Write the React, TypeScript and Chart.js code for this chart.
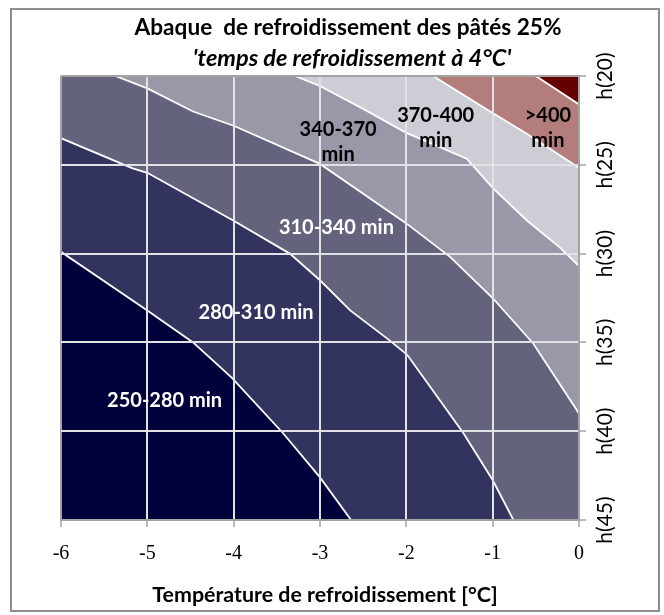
import React, { useEffect, useRef } from 'react';
import { Chart, registerables } from 'chart.js';

Chart.register(...registerables);

type Pt = [number, number];

// ---- axes ----
const xTickValues = [-6, -5, -4, -3, -2, -1, 0];
const xTickLabels = ['-6', '-5', '-4', '-3', '-2', '-1', '0'];
const hTickValues = [20, 25, 30, 35, 40, 45];
const hTickLabels = ['h(20)', 'h(25)', 'h(30)', 'h(35)', 'h(40)', 'h(45)'];

// ---- contour boundaries: [temperature °C, h] ----
const contour280: Pt[] = [[-6, 29.9], [-5, 33.2], [-4.47, 35.0], [-4.02, 37.0], [-3.43, 40.1], [-3.0, 42.6], [-2.64, 45]];
const contour310: Pt[] = [[-6, 23.5], [-5.17, 25.2], [-5, 25.45], [-4, 28.15], [-3.35, 30.0], [-3, 31.5], [-2.65, 33.2], [-2.19, 34.9], [-1.99, 35.7], [-1.34, 40.1], [-1, 42.75], [-0.76, 45]];
const contour340: Pt[] = [[-5.37, 20], [-5, 20.7], [-4.47, 22.0], [-4, 22.8], [-3, 24.95], [-2.39, 27.0], [-2, 28.3], [-1.49, 30.2], [-1, 32.5], [-0.53, 35.06], [0, 39.0]];
const contour370: Pt[] = [[-3.29, 20], [-3, 20.56], [-2.5, 21.85], [-2, 23.2], [-1.3, 24.66], [-1, 26.3], [-0.6, 28.15], [-0.22, 29.66], [0, 30.7]];
const contour400: Pt[] = [[-1.69, 20], [-1, 22.08], [-0.6, 23.26], [0, 25.17]];
const contour430: Pt[] = [[-0.5, 20], [0, 21.6]];

const bandNames = ['250-280 min', '280-310 min', '310-340 min', '340-370 min', '370-400 min', '>400 min', '>430 min'];
const bandColors = ['#00003a', '#333360', '#63637e', '#9898a9', '#cdcdd5', '#b27d7a', '#660000'];

// ---- in-plot labels ----
const labelLines = [['250-280 min'], ['280-310 min'], ['310-340 min'], ['340-370', 'min'], ['370-400', 'min'], ['>400', 'min']];
const labelTemps = [-4.8, -3.74, -2.81, -2.79, -1.66, -0.36];
const labelHeights = [38.26, 33.31, 28.54, 23.7, 22.92, 22.92];
const labelInk = ['#ffffff', '#ffffff', '#ffffff', '#000000', '#000000', '#000000'];

const chartTitle = 'Abaque  de refroidissement des pâtés 25%';
const chartSubtitle = "'temps de refroidissement à 4°C'";
const xAxisTitle = 'Température de refroidissement [°C]';

const X_MIN = xTickValues[0];
const X_MAX = xTickValues[xTickValues.length - 1];
const H_MIN = hTickValues[0];
const H_MAX = hTickValues[hTickValues.length - 1];

const contours = [contour280, contour310, contour340, contour370, contour400, contour430];

function regionAbove(line: Pt[]): Pt[] {
  const pts = line.slice();
  const last = pts[pts.length - 1];
  if (last[1] >= H_MAX) pts.push([X_MAX, H_MAX]);
  pts.push([X_MAX, H_MIN]);
  if (pts[0][0] <= X_MIN) pts.push([X_MIN, H_MIN]);
  pts.push(pts[0]);
  return pts;
}

const baseRect: Pt[] = [[X_MIN, H_MIN], [X_MAX, H_MIN], [X_MAX, H_MAX], [X_MIN, H_MAX], [X_MIN, H_MIN]];
const toXY = (pts: Pt[]) => pts.map(([x, y]) => ({ x, y }));

const EDGE = '#a3a3a3';
const GRID = '#e2e2e6';

const textPlugin = {
  id: 'texts',
  beforeDraw(chart: any) {
    const { ctx, width, height } = chart;
    ctx.save();
    ctx.fillStyle = '#ffffff';
    ctx.fillRect(0, 0, width, height);
    ctx.strokeStyle = '#8e8e8e';
    ctx.lineWidth = 2;
    ctx.strokeRect(11, 9, 648, 602);
    ctx.restore();
  },
  afterDraw(chart: any) {
    const { ctx } = chart;
    const xs = chart.scales.x;
    const ys = chart.scales.y;
    ctx.save();
    ctx.textAlign = 'center';
    ctx.textBaseline = 'middle';
    ctx.fillStyle = '#000';
    ctx.font = 'bold 22.6px Lato';
    ctx.fillText(chartTitle, 348, 28);
    ctx.font = 'italic bold 23.5px Lato';
    ctx.fillText(chartSubtitle, 352, 58);
    ctx.font = 'bold 21.4px Lato';
    ctx.fillText(xAxisTitle, 325, 595);
    ctx.font = 'bold 20px Lato';
    labelLines.forEach((lines, i) => {
      const cx = xs.getPixelForValue(labelTemps[i]);
      const cy = ys.getPixelForValue(labelHeights[i]);
      ctx.fillStyle = labelInk[i];
      lines.forEach((t, j) => ctx.fillText(t, cx, cy + (j - (lines.length - 1) / 2) * 25));
    });
    ctx.restore();
  },
};

export default function App() {
  const ref = useRef<HTMLCanvasElement>(null);
  useEffect(() => {
    const canvas = ref.current;
    if (!canvas) return;
    const datasets: any[] = [];
    contours.forEach((c, i) => {
      datasets.push({
        label: bandNames[i] + ' / ' + bandNames[i + 1],
        data: toXY(c),
        showLine: true,
        borderColor: '#ffffff',
        borderWidth: 1.8,
        pointRadius: 0,
        fill: false,
        tension: 0,
        order: 0,
      });
    });
    datasets.push({
      label: bandNames[0],
      data: toXY(baseRect),
      showLine: true,
      borderColor: 'transparent',
      borderWidth: 0,
      backgroundColor: bandColors[0],
      pointRadius: 0,
      fill: 'shape',
      order: 20,
    });
    contours.forEach((c, i) => {
      datasets.push({
        label: bandNames[i + 1],
        data: toXY(regionAbove(c)),
        showLine: true,
        borderColor: 'transparent',
        borderWidth: 0,
        backgroundColor: bandColors[i + 1],
        pointRadius: 0,
        fill: 'shape',
        order: 19 - i,
      });
    });

    const chart = new Chart(canvas, {
      type: 'scatter',
      data: { datasets },
      plugins: [textPlugin],
      options: {
        animation: false,
        responsive: false,
        events: [],
        layout: { padding: { left: 61, top: 76, right: 25, bottom: 35 } },
        plugins: { legend: { display: false }, tooltip: { enabled: false }, title: { display: false } },
        scales: {
          x: {
            type: 'linear',
            position: 'bottom',
            min: X_MIN,
            max: X_MAX,
            afterBuildTicks: (s: any) => { s.ticks = xTickValues.map((v) => ({ value: v })); },
            afterFit: (s: any) => { s.height = 60; },
            ticks: {
              autoSkip: false,
              maxRotation: 0,
              padding: 15,
              color: '#000',
              font: { family: 'Liberation Serif', size: 20 },
              callback: (v: any) => xTickLabels[xTickValues.indexOf(Number(v))],
            },
            grid: {
              z: 1,
              color: (c: any) => (c.tick && (c.tick.value === X_MIN || c.tick.value === X_MAX) ? EDGE : GRID),
              lineWidth: 2,
              tickLength: 7,
              tickColor: EDGE,
              tickWidth: 1.5,
            },
            border: { z: 1, color: EDGE, width: 2 },
          },
          y: {
            type: 'linear',
            position: 'right',
            reverse: true,
            min: H_MIN,
            max: H_MAX,
            afterBuildTicks: (s: any) => { s.ticks = hTickValues.map((v) => ({ value: v })); },
            afterFit: (s: any) => { s.width = 60; },
            ticks: {
              autoSkip: false,
              minRotation: 90,
              maxRotation: 90,
              crossAlign: 'center',
              padding: -4,
              color: '#000',
              font: { family: 'Lato', size: 21 },
              callback: (v: any) => hTickLabels[hTickValues.indexOf(Number(v))],
            },
            grid: {
              z: 1,
              color: (c: any) => (c.tick && c.tick.value === H_MIN ? EDGE : c.tick && c.tick.value === H_MAX ? EDGE : GRID),
              lineWidth: 2,
              tickLength: 7,
              tickColor: EDGE,
              tickWidth: 1.5,
            },
            border: { z: 1, color: EDGE, width: 2 },
          },
        },
      } as any,
    });
    return () => chart.destroy();
  }, []);
  return (
    <div style={{ position: 'fixed', left: 0, top: 0, width: 664, height: 615, background: '#fff' }}>
      <canvas ref={ref} width={664} height={615} style={{ display: 'block', width: 664, height: 615 }} />
    </div>
  );
}
